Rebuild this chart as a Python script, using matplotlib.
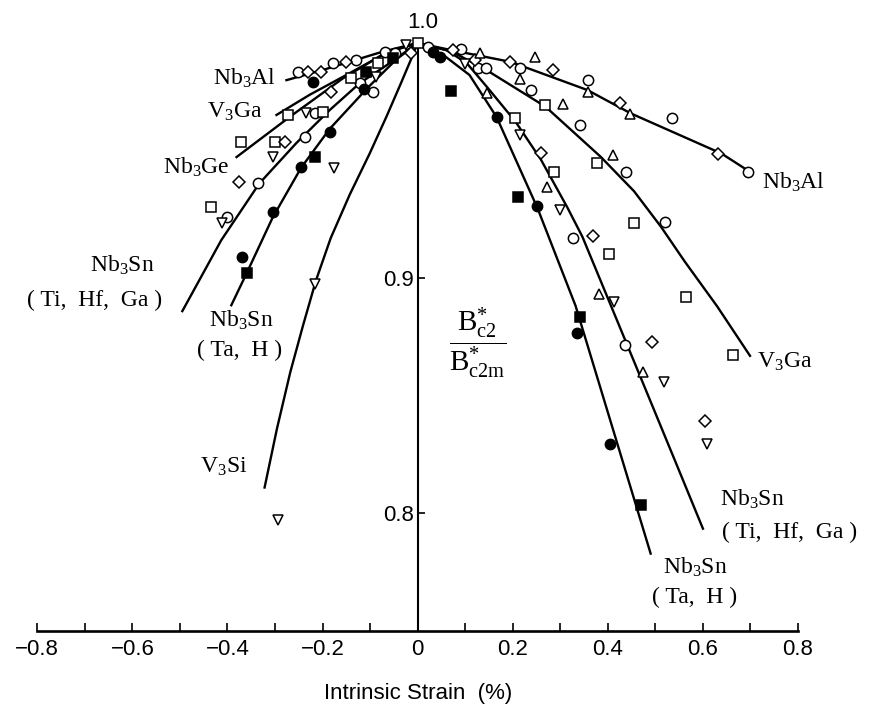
import matplotlib
matplotlib.use("Agg")
import matplotlib.pyplot as plt

plt.rcParams['mathtext.fontset'] = 'custom'
plt.rcParams['mathtext.rm'] = 'Liberation Serif'
plt.rcParams['mathtext.it'] = 'Liberation Serif:italic'
plt.rcParams['mathtext.bf'] = 'Liberation Serif:bold'

# fitted curves: intrinsic strain (%) -> Bc2*/Bc2m*
nb3al_r_x = [0, 0.075, 0.195, 0.357, 0.449, 0.639, 0.699]
nb3al_r_y = [1.0, 0.9968, 0.992, 0.980, 0.970, 0.953, 0.9452]
v3ga_r_x = [0, 0.07, 0.139, 0.269, 0.385, 0.455, 0.512, 0.562, 0.63, 0.699]
v3ga_r_y = [1.0, 0.9965, 0.9892, 0.9729, 0.9516, 0.937, 0.9218, 0.907, 0.888, 0.867]
sn_ti_r_x = [0, 0.06, 0.103, 0.147, 0.206, 0.259, 0.315, 0.3465, 0.41, 0.48, 0.55, 0.60]
sn_ti_r_y = [1.0, 0.997, 0.9915, 0.981, 0.9665, 0.9505, 0.930, 0.9176, 0.8866, 0.8524, 0.8181, 0.7935]
sn_ta_r_x = [0, 0.054, 0.109, 0.166, 0.252, 0.332, 0.411, 0.49]
sn_ta_r_y = [1.0, 0.9949, 0.9864, 0.9685, 0.9298, 0.8883, 0.8356, 0.7829]

nb3al_l_x = [0, -0.074, -0.2, -0.276]
nb3al_l_y = [1.0, 0.9963, 0.9885, 0.9842]
v3ga_l_x = [0, -0.06, -0.15, -0.227, -0.297]
v3ga_l_y = [1.0, 0.9965, 0.9864, 0.978, 0.9694]
nb3ge_l_x = [0, -0.07, -0.157, -0.269, -0.381]
nb3ge_l_y = [1.0, 0.9955, 0.985, 0.9686, 0.9515]
sn_ti_l_x = [0, -0.059, -0.122, -0.185, -0.255, -0.333, -0.413, -0.495]
sn_ti_l_y = [1.0, 0.9914, 0.9829, 0.9715, 0.9575, 0.9403, 0.9162, 0.886]
sn_ta_l_x = [0, -0.045, -0.105, -0.185, -0.245, -0.305, -0.36, -0.392]
sn_ta_l_y = [1.0, 0.993, 0.981, 0.9635, 0.947, 0.9258, 0.902, 0.8885]
v3si_l_x = [0, -0.012, -0.035, -0.065, -0.101, -0.143, -0.183, -0.214, -0.241, -0.268, -0.296, -0.322]
v3si_l_y = [1.0, 0.994, 0.983, 0.969, 0.953, 0.9355, 0.917, 0.899, 0.880, 0.860, 0.836, 0.811]

# measured points
circle_x = [0.022, 0.092, 0.127, 0.143, 0.215, 0.238, 0.359, 0.534, 0.695, 0.341, 0.438,
            0.52, 0.327, 0.437,
            -0.252, -0.178, -0.129, -0.069, -0.048, -0.094, -0.217, -0.238, -0.336, -0.401, -0.122]
circle_y = [0.9984, 0.9973, 0.9892, 0.9892, 0.9892, 0.980, 0.9843, 0.968, 0.9452, 0.9651, 0.9452,
            0.924, 0.9169, 0.8717,
            0.9878, 0.9914, 0.9928, 0.9963, 0.9956, 0.9793, 0.9701, 0.9599, 0.9406, 0.9261, 0.9828]
square_x = [0, 0.267, 0.204, 0.286, 0.378, 0.455, 0.403, 0.565, 0.663,
            -0.084, -0.14, -0.273, -0.199, -0.371, -0.301, -0.434]
square_y = [1.0, 0.9736, 0.968, 0.9452, 0.9488, 0.9235, 0.9102, 0.8922, 0.8674,
            0.9914, 0.985, 0.9694, 0.9708, 0.958, 0.958, 0.9303]
diamond_x = [0.074, 0.12, 0.194, 0.284, 0.425, 0.632, 0.26, 0.368, 0.493, 0.604,
             -0.013, -0.231, -0.203, -0.15, -0.182, -0.28, -0.375]
diamond_y = [0.997, 0.9928, 0.992, 0.9885, 0.9743, 0.9528, 0.9533, 0.9179, 0.8727, 0.8391,
             0.9956, 0.9878, 0.9878, 0.992, 0.9793, 0.958, 0.941]
tri_up_x = [0.131, 0.246, 0.215, 0.359, 0.446, 0.305, 0.146, 0.271, 0.411, 0.382, 0.473]
tri_up_y = [0.9959, 0.9939, 0.9846, 0.9793, 0.970, 0.974, 0.9789, 0.9386, 0.9523, 0.8933, 0.8603]
tri_dn_x = [0.10, 0.216, 0.30, 0.413, 0.519, 0.609,
            -0.024, -0.087, -0.234, -0.305, -0.175, -0.411, -0.217, -0.294]
tri_dn_y = [0.991, 0.9609, 0.9292, 0.8898, 0.856, 0.8296,
            0.9991, 0.9857, 0.9701, 0.9516, 0.9467, 0.9233, 0.8977, 0.7973]
dot_x = [0.032, 0.046, 0.167, 0.25, 0.335, 0.405,
         -0.22, -0.112, -0.185, -0.245, -0.305, -0.369]
dot_y = [0.9963, 0.9942, 0.9686, 0.9306, 0.8765, 0.8295,
         0.9835, 0.9803, 0.9623, 0.9474, 0.9282, 0.9088]
block_x = [0.071, 0.211, 0.341, 0.47, -0.108, -0.052, -0.217, -0.359]
block_y = [0.9797, 0.9346, 0.8837, 0.8035, 0.9878, 0.9935, 0.9516, 0.902]

xtick_vals = [-0.8, -0.7, -0.6, -0.5, -0.4, -0.3, -0.2, -0.1, 0,
              0.1, 0.2, 0.3, 0.4, 0.5, 0.6, 0.7, 0.8]
xtick_labels = ['\u22120.8', '', '\u22120.6', '', '\u22120.4', '', '\u22120.2', '', '0',
                '', '0.2', '', '0.4', '', '0.6', '', '0.8']
ytick_vals = [0.8, 0.9]
ytick_labels = ['0.8', '0.9']

tick_font = 'Liberation Sans'
serif = 'Liberation Serif'

fig = plt.figure(figsize=(8.76, 7.12), dpi=100)
ax = fig.add_axes([0.0426, 0.1138, 0.8684, 0.8258])
ax.set_xlim(-0.8, 0.8)
ax.set_ylim(0.75, 1.0)

for s in ['top', 'right']:
    ax.spines[s].set_visible(False)
ax.spines['left'].set_position(('data', 0))
ax.spines['left'].set_linewidth(1.5)
ax.spines['bottom'].set_linewidth(1.9)

ax.set_xticks(xtick_vals)
ax.set_xticklabels(xtick_labels, family=tick_font, fontsize=16)
ax.set_yticks(ytick_vals)
ax.set_yticklabels(ytick_labels, family=tick_font, fontsize=16)
ax.tick_params(axis='x', direction='in', length=6, width=1.2, pad=6)
ax.tick_params(axis='y', direction='in', length=5, width=1.2, pad=3)
ax.text(0.0105, 1.0088, '1.0', family=tick_font, fontsize=16, ha='center', va='center')

curves = [(nb3al_r_x, nb3al_r_y), (v3ga_r_x, v3ga_r_y), (sn_ti_r_x, sn_ti_r_y),
          (sn_ta_r_x, sn_ta_r_y), (nb3al_l_x, nb3al_l_y), (v3ga_l_x, v3ga_l_y),
          (nb3ge_l_x, nb3ge_l_y), (sn_ti_l_x, sn_ti_l_y), (sn_ta_l_x, sn_ta_l_y),
          (v3si_l_x, v3si_l_y)]
for cx, cy in curves:
    ax.plot(cx, cy, color='black', lw=1.7, zorder=2, clip_on=False,
            solid_joinstyle='round')

def pts(x, y, marker, ms, face='white'):
    ax.plot(x, y, ls='none', marker=marker, ms=ms, mfc=face, mec='black',
            mew=1.1, zorder=3, clip_on=False)

pts(circle_x, circle_y, 'o', 7.4)
pts(square_x, square_y, 's', 7.0)
pts(diamond_x, diamond_y, 'D', 6.4)
pts(tri_up_x, tri_up_y, '^', 7.6)
pts(tri_dn_x, tri_dn_y, 'v', 7.6)
pts(dot_x, dot_y, 'o', 7.4, 'black')
pts(block_x, block_y, 's', 7.0, 'black')

lab = dict(fontsize=17, family=serif, va='center')
ax.text(-0.297, 0.985, 'Nb$_3$Al', ha='right', **lab)
ax.text(-0.326, 0.9706, 'V$_3$Ga', ha='right', **lab)
ax.text(-0.396, 0.9472, 'Nb$_3$Ge', ha='right', **lab)
ax.text(-0.621, 0.9055, 'Nb$_3$Sn', ha='center', **lab)
ax.text(-0.68, 0.8906, '( Ti,  Hf,  Ga )', ha='center', **lab)
ax.text(-0.3705, 0.8821, 'Nb$_3$Sn', ha='center', **lab)
ax.text(-0.375, 0.8694, '( Ta,  H )', ha='center', **lab)
ax.text(-0.408, 0.8196, 'V$_3$Si', ha='center', **lab)
ax.text(0.7235, 0.9409, 'Nb$_3$Al', ha='left', **lab)
ax.text(0.713, 0.8643, 'V$_3$Ga', ha='left', **lab)
ax.text(0.703, 0.806, 'Nb$_3$Sn', ha='center', **lab)
ax.text(0.783, 0.7919, '( Ti,  Hf,  Ga )', ha='center', **lab)
ax.text(0.583, 0.777, 'Nb$_3$Sn', ha='center', **lab)
ax.text(0.583, 0.7643, '( Ta,  H )', ha='center', **lab)

ax.text(0.126, 0.8723, r'$\dfrac{\mathrm{B}^{*}_{\mathrm{c2}}}{\mathrm{B}^{*}_{\mathrm{c2m}}}$',
        fontsize=21, ha='center', va='center')

fig.text(0.477, 0.026, 'Intrinsic Strain  (%)', family=tick_font,
         fontsize=16, ha='center', va='center')

fig.savefig('out.png', dpi=100)
